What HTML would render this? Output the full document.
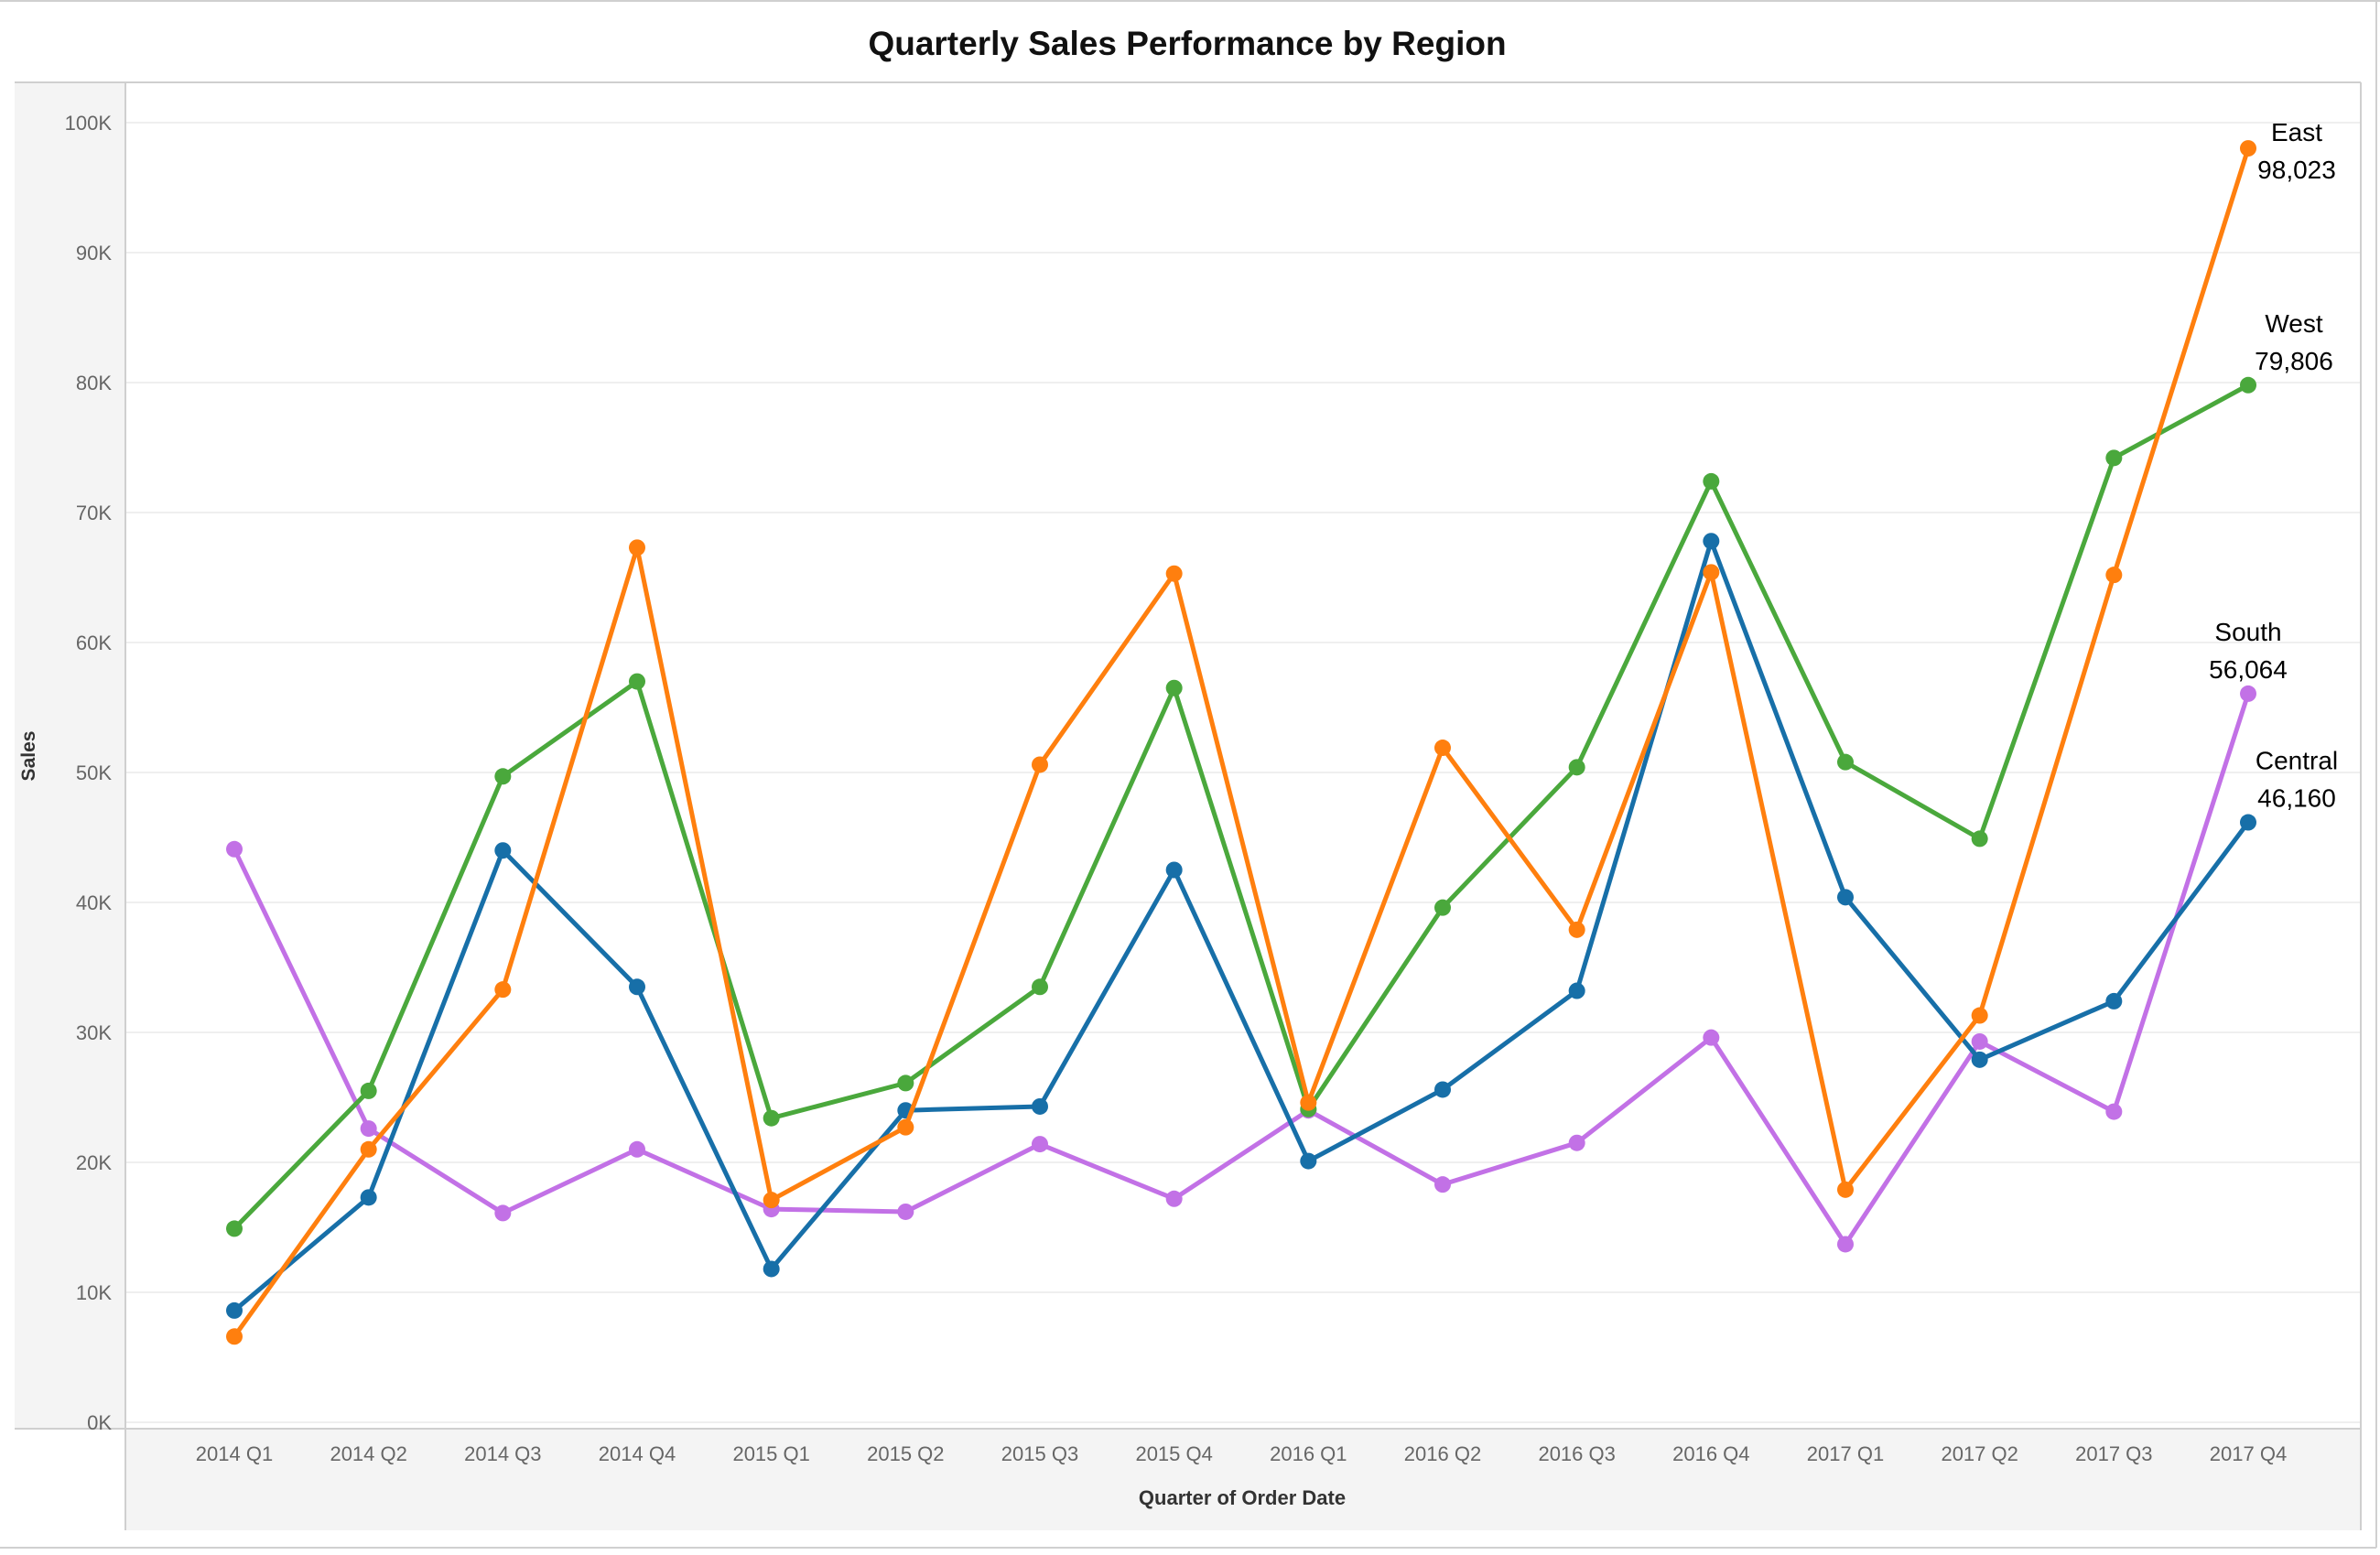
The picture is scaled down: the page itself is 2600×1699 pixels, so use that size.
<!DOCTYPE html>
<html><head><meta charset="utf-8">
<style>
html,body{margin:0;padding:0;background:#fff;}
body{width:2600px;height:1694px;overflow:hidden;font-family:"Liberation Sans",sans-serif;}
svg text{font-family:"Liberation Sans","DejaVu Sans",sans-serif;}
</style></head>
<body>
<svg id="chart" width="2600" height="1694" viewBox="0 0 2600 1694" xmlns="http://www.w3.org/2000/svg">
  <rect x="0" y="0" width="2600" height="1694" fill="#fff"/>
  <line x1="0" y1="1" x2="2600" y2="1" stroke="#d0d0d0" stroke-width="2"/>
  <line x1="0" y1="1691" x2="2596" y2="1691" stroke="#d0d0d0" stroke-width="2"/>
  <line x1="2596" y1="0" x2="2596" y2="1691" stroke="#d0d0d0" stroke-width="2"/>
  <text x="1297" y="60" text-anchor="middle" font-size="37" font-weight="bold" fill="#111">Quarterly Sales Performance by Region</text>
  <rect x="16" y="90" width="121" height="1470" fill="#f4f4f4"/>
  <rect x="137" y="1561" width="2442" height="111" fill="#f4f4f4"/>
  <line x1="16" y1="90" x2="2579" y2="90" stroke="#cfcfcf" stroke-width="2"/>
  <line x1="137" y1="90" x2="137" y2="1672" stroke="#cfcfcf" stroke-width="2"/>
  <line x1="16" y1="1561" x2="2579" y2="1561" stroke="#cfcfcf" stroke-width="2"/>
  <line x1="2579" y1="90" x2="2579" y2="1672" stroke="#cfcfcf" stroke-width="2"/>
  <g id="grid"></g>
  <g id="yticks"></g>
  <g id="xticks"></g>
  <g id="series"></g>
  <g id="labels"></g>
  <text x="0" y="0" transform="translate(38,826) rotate(-90)" text-anchor="middle" font-size="21" font-weight="bold" fill="#333">Sales</text>
  <text x="1357" y="1644" text-anchor="middle" font-size="22" font-weight="bold" fill="#333">Quarter of Order Date</text>
</svg>
<script>
const categories = ["2014 Q1","2014 Q2","2014 Q3","2014 Q4","2015 Q1","2015 Q2","2015 Q3","2015 Q4","2016 Q1","2016 Q2","2016 Q3","2016 Q4","2017 Q1","2017 Q2","2017 Q3","2017 Q4"];
const eastValues = [6600,21000,33300,67300,17100,22700,50600,65300,24600,51900,37900,65400,17900,31300,65200,98023];
const westValues = [14900,25500,49700,57000,23400,26100,33500,56500,24100,39600,50400,72400,50800,44900,74200,79806];
const centralValues = [8600,17300,44000,33500,11800,24000,24300,42500,20100,25600,33200,67800,40400,27900,32400,46160];
const southValues = [44100,22600,16100,21000,16400,16200,21400,17200,24000,18300,21500,29600,13700,29300,23900,56064];
const yTicks = [0,10000,20000,30000,40000,50000,60000,70000,80000,90000,100000];
const yTickLabels = ["0K","10K","20K","30K","40K","50K","60K","70K","80K","90K","100K"];

const NS = "http://www.w3.org/2000/svg";
function xScale(i){ return 256 + i * (2456 - 256) / (categories.length - 1); }
function yScale(v){ return 1554 - v * (1554 - 134) / 100000; }
function mk(tag, attrs, parent){ const e = document.createElementNS(NS, tag); for (const k in attrs) e.setAttribute(k, attrs[k]); parent.appendChild(e); return e; }

const grid = document.getElementById('grid');
const yt = document.getElementById('yticks');
yTicks.forEach((v, i) => {
  const gl = mk('line', {x1:138, x2:2578, y1:yScale(v), y2:yScale(v), stroke:'#efefef', 'stroke-width':2}, grid);
  
  
  const t = mk('text', {x:122, y:yScale(v) + 8, 'text-anchor':'end', 'font-size':22, fill:'#666'}, yt);
  t.textContent = yTickLabels[i];
  
  
});
const xt = document.getElementById('xticks');
categories.forEach((c, i) => {
  const t = mk('text', {x:xScale(i), y:1596, 'text-anchor':'middle', 'font-size':22, fill:'#666'}, xt);
  t.textContent = c;
  
  
});

const seriesList = [
  {name:'south', vals:southValues, color:'#c271e6'},
  {name:'central', vals:centralValues, color:'#176fa8'},
  {name:'west', vals:westValues, color:'#4aa83c'},
  {name:'east', vals:eastValues, color:'#ff7f0e'}
];
const sg = document.getElementById('series');
seriesList.forEach(s => {
  const g = mk('g', {}, sg);
  
  
  const pts = s.vals.map((v, i) => xScale(i) + ',' + yScale(v)).join(' ');
  const pl = mk('polyline', {points:pts, fill:'none', stroke:s.color, 'stroke-width':5, 'stroke-linejoin':'round'}, g);
  
  
  s.vals.forEach((v, i) => {
    const c = mk('circle', {cx:xScale(i), cy:yScale(v), r:9, fill:s.color}, g);
    
    
  });
});

const labelData = [
  {name:'East', vals:eastValues, dx:53, dy:-8},
  {name:'West', vals:westValues, dx:50, dy:-58},
  {name:'South', vals:southValues, dx:0, dy:-58},
  {name:'Central', vals:centralValues, dx:53, dy:-58}
];
const lg = document.getElementById('labels');
labelData.forEach(l => {
  const last = l.vals.length - 1;
  const x = xScale(last) + l.dx, y = yScale(l.vals[last]) + l.dy;
  const t1 = mk('text', {x:x, y:y, 'text-anchor':'middle', 'font-size':28, fill:'#000'}, lg);
  t1.textContent = l.name;
  
  
  const t2 = mk('text', {x:x, y:y + 41, 'text-anchor':'middle', 'font-size':28, fill:'#000'}, lg);
  t2.textContent = Math.round(l.vals[last]).toLocaleString('en-US');
  
  
});
</script>
</body></html>
